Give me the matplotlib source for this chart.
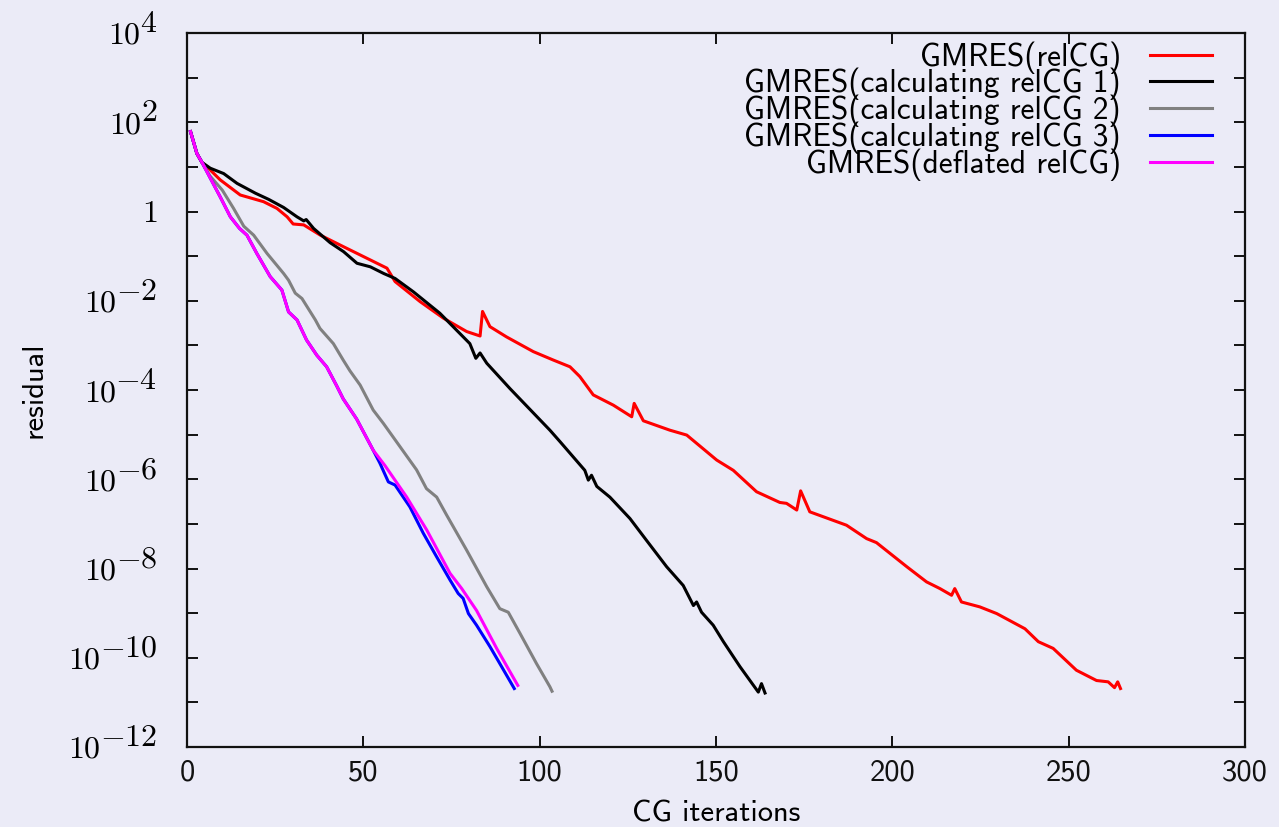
import numpy as np
import matplotlib
matplotlib.use('Agg')
import matplotlib.pyplot as plt
from matplotlib.ticker import NullLocator

plt.rcParams['mathtext.fontset'] = 'cm'
plt.rcParams['font.family'] = ['cmss10', 'DejaVu Sans']
plt.rcParams['axes.unicode_minus'] = False

# data: x = CG iterations, log10 of residual
relcg_x = [1, 2.8, 4.25, 5.7, 9.4, 15.1, 21.7, 25.5, 28.4, 30.1, 33.1, 37.8, 44.4, 56.7, 59,
           66.1, 72.7, 79.3, 83.1, 83.8, 85.9, 90.6, 98.2, 103.9, 108.6, 111.4, 115.2, 120.9,
           126.1, 126.8, 129.4, 136.9, 141.7, 150.2, 154.9, 161.5, 168.1, 170.0, 172.9, 174.0,
           176.6, 187.0, 192.7, 195.5, 204.1, 209.7, 213.5, 216.8, 217.7, 219.6, 224.8, 229.6,
           237.6, 241.4, 245.6, 252.2, 257.9, 261.2, 263.0, 263.9, 264.7]
relcg_log = [1.79, 1.30, 1.10, 1.00, 0.71, 0.37, 0.22, 0.07, -0.12, -0.28, -0.30, -0.53, -0.79,
             -1.27, -1.57, -2.02, -2.39, -2.69, -2.79, -2.24, -2.58, -2.81, -3.14, -3.33, -3.48,
             -3.70, -4.11, -4.34, -4.60, -4.30, -4.69, -4.90, -5.01, -5.57, -5.80, -6.28, -6.52,
             -6.54, -6.69, -6.26, -6.73, -7.03, -7.33, -7.42, -7.96, -8.30, -8.45, -8.60, -8.45,
             -8.75, -8.86, -9.01, -9.35, -9.64, -9.79, -10.28, -10.51, -10.54, -10.67, -10.54,
             -10.69]

calc1_x = [1, 2.8, 4.25, 6.6, 10.4, 14.2, 19.4, 23.2, 27.4, 31.2, 33.1, 33.8, 35.9, 40.6, 44.4,
           48.2, 52.0, 55.8, 59.0, 64.2, 71.7, 80.2, 81.9, 83.1, 85.0, 91.6, 102.9, 105.8,
           112.8, 113.8, 114.7, 116.2, 119.9, 125.6, 130.3, 136.0, 140.7, 143.6, 144.5, 145.9,
           149.2, 152.1, 156.8, 162.0, 162.9, 163.9]
calc1_log = [1.79, 1.30, 1.10, 0.97, 0.85, 0.63, 0.41, 0.27, 0.09, -0.12, -0.21, -0.18, -0.38,
             -0.70, -0.90, -1.16, -1.24, -1.39, -1.50, -1.80, -2.28, -2.96, -3.29, -3.17, -3.40,
             -3.97, -4.90, -5.16, -5.80, -6.02, -5.91, -6.16, -6.40, -6.88, -7.37, -7.96, -8.38,
             -8.83, -8.75, -8.98, -9.27, -9.64, -10.20, -10.77, -10.58, -10.79]

calc2_x = [1, 2.8, 4.25, 6.5, 10.0, 13.2, 16.1, 18.9, 22.7, 27.4, 28.8, 30.7, 32.6, 36.4, 37.7,
           41.5, 44.3, 46.2, 49.1, 52.8, 55.7, 60.4, 65.1, 67.9, 70.8, 73.6, 79.3, 85.0, 88.7,
           91.1, 94.4, 99.1, 102.9, 103.5]
calc2_log = [1.79, 1.30, 1.10, 0.80, 0.48, 0.07, -0.33, -0.53, -0.94, -1.39, -1.54, -1.83, -1.95,
             -2.43, -2.62, -2.96, -3.33, -3.57, -3.89, -4.45, -4.75, -5.27, -5.79, -6.21, -6.40,
             -6.80, -7.59, -8.41, -8.90, -8.98, -9.45, -10.13, -10.65, -10.75]

calc3_x = [1, 2.8, 4.25, 9.4, 12.3, 14.9, 17.0, 19.8, 23.6, 26.9, 28.8, 31.2, 33.9, 36.8, 39.6,
           42.4, 44.3, 48.1, 52.8, 54.7, 57.1, 59.0, 63.2, 67.0, 70.8, 74.6, 76.9, 78.3, 79.8,
           82.1, 85.9, 88.7, 92.8]
calc3_log = [1.79, 1.30, 1.10, 0.33, -0.12, -0.38, -0.53, -0.94, -1.46, -1.76, -2.25, -2.43,
             -2.88, -3.22, -3.48, -3.90, -4.20, -4.65, -5.35, -5.64, -6.06, -6.13, -6.62, -7.21,
             -7.74, -8.26, -8.56, -8.67, -9.01, -9.27, -9.75, -10.13, -10.69]

defl_x = [1, 2.8, 4.25, 9.4, 12.3, 14.9, 17.0, 19.8, 23.6, 26.9, 28.8, 31.2, 33.9, 36.8, 39.6,
          42.4, 44.3, 48.1, 52.8, 56.1, 62.3, 68.0, 74.6, 77.9, 82.1, 87.8, 93.8]
defl_log = [1.79, 1.30, 1.10, 0.33, -0.12, -0.38, -0.53, -0.94, -1.46, -1.76, -2.25, -2.43,
            -2.88, -3.22, -3.48, -3.90, -4.20, -4.65, -5.35, -5.69, -6.40, -7.14, -8.11, -8.45,
            -8.94, -9.79, -10.62]

labels = ['GMRES(relCG)', 'GMRES(calculating relCG 1)', 'GMRES(calculating relCG 2)',
          'GMRES(calculating relCG 3)', 'GMRES(deflated relCG)']
colors = ['#ff0000', '#000000', '#808080', '#0000ff', '#ff00ff']
xticks = [0, 50, 100, 150, 200, 250, 300]
ydecades = list(range(-12, 5))
ylabeled = [4, 2, 0, -2, -4, -6, -8, -10, -12]

bg = '#ebebf7'
fig = plt.figure(figsize=(12.79, 8.27), dpi=100, facecolor=bg)
ax = fig.add_axes([187 / 1279, 1 - 747 / 827, (1245 - 187) / 1279, (747 - 33) / 827])
ax.set_facecolor(bg)

series = [(relcg_x, relcg_log), (calc1_x, calc1_log), (calc2_x, calc2_log),
          (calc3_x, calc3_log), (defl_x, defl_log)]
for (xs, ls), lab, c in zip(series, labels, colors):
    ax.plot(xs, 10.0 ** np.array(ls), color=c, lw=2.2, label=lab)

ax.set_yscale('log')
ax.set_xlim(0, 300)
ax.set_ylim(1e-12, 1e4)
ax.set_yticks([10.0 ** d for d in ydecades])
ax.set_yticklabels(['' for d in ydecades])
ax.yaxis.set_minor_locator(NullLocator())
ax.set_xticks(xticks)
ax.set_xticklabels([str(t) for t in xticks])

ax.tick_params(direction='in', length=8, width=1.4, top=True, right=True, colors='#111111')
ax.tick_params(axis='x', labelsize=22, pad=9)
for s in ax.spines.values():
    s.set_linewidth(1.6)
    s.set_color('#111111')

# gnuplot-like 10^n labels: exponent as large as the base
for d in ylabeled:
    if d == 0:
        ax.annotate('$1$', xy=(0, 1.0), xycoords=('axes fraction', 'data'),
                    xytext=(-30, -10), textcoords='offset pixels', ha='right', va='baseline',
                    fontsize=23)
        continue
    ex = ax.annotate('$%d$' % d, xy=(0, 10.0 ** d), xycoords=('axes fraction', 'data'),
                     xytext=(-30, 1), textcoords='offset pixels', ha='right', va='baseline',
                     fontsize=23)
    ax.annotate('$10$', xy=(0, 0), xycoords=ex, xytext=(1, -6), textcoords='offset pixels',
                ha='right', va='baseline', fontsize=23)

ax.set_xlabel('CG iterations', fontsize=22)
ax.xaxis.set_label_coords(0.5, (747 - 800) / 714)
ax.set_ylabel('residual', fontsize=22)
ax.yaxis.set_label_coords((47 - 187) / 1058, 0.5)

ax.legend(loc='upper right', bbox_to_anchor=((1212 - 187) / 1058, (747 - 41) / 714),
          markerfirst=False, frameon=False, fontsize=22.5,
          handlelength=1.97, handletextpad=0.95, labelspacing=-0.18, borderaxespad=0,
          borderpad=0)

fig.savefig('out.png', dpi=100, facecolor=bg)
